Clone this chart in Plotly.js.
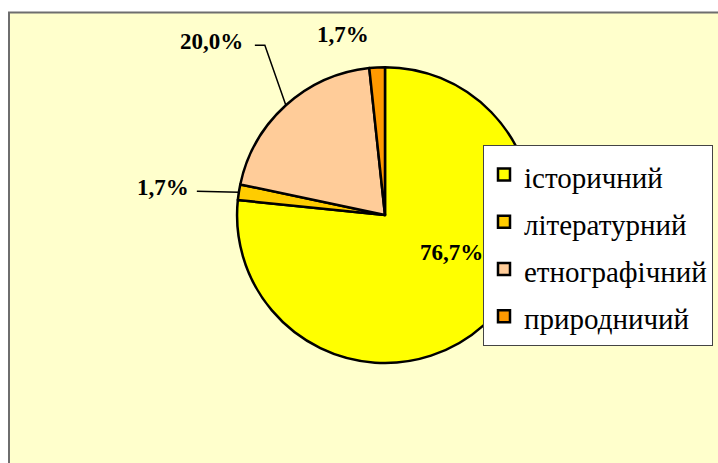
<!DOCTYPE html>
<html>
<head>
<meta charset="utf-8">
<script src="https://cdn.plot.ly/plotly-3.0.1.min.js"></script>
<style>html,body{margin:0;padding:0;background:#fff;overflow:hidden;}
#chart{width:718px;height:463px;}</style>
</head>
<body>
<div id="chart"></div>
<script>
// ---- data ----
const categories = ['історичний', 'літературний', 'етнографічний', 'природничий'];
const shares = [76.7, 1.7, 20.0, 1.7];
const sliceColors = ['#FFFF00', '#FFCC00', '#FFCC99', '#FF9900'];
const percentLabels = shares.map(v => v.toFixed(1).replace('.', ',') + '%');

// ---- layout geometry ----
const SERIF = 'Liberation Serif';
const W = 718, H = 463;
const dom = { x: [0.3301, 0.7423], y: [0.216, 0.855] };
const cx = W * (dom.x[0] + dom.x[1]) / 2;
const cy = H * (1 - (dom.y[0] + dom.y[1]) / 2);
const R = Math.min(W * (dom.x[1] - dom.x[0]), H * (dom.y[1] - dom.y[0])) / 2;
const toX = px => px / W;
const toY = py => 1 - py / H;

// label placement (pixel offsets from slice edge midpoint)
const placement = [
  { dx: -33, dy: -72, leader: null },
  { dx: -76, dy: -5, leader: [[0, 0], [-42, -1]] },
  { dx: -74, dy: -64, leader: [[0, 0], [-21, -60], [-31, -60]] },
  { dx: -34, dy: -33, leader: null }
];

const total = shares.reduce((a, b) => a + b, 0);
let cum = 0;
const annotations = [];
const shapes = [{
  type: 'rect', xref: 'paper', yref: 'paper', layer: 'below',
  x0: toX(9), x1: 1.02, y0: -0.02, y1: toY(12.5),
  fillcolor: '#FFFFCC', line: { color: '#6e6e6e', width: 2 }
}];
shares.forEach((v, i) => {
  const mid = (cum + v / 2) / total * 2 * Math.PI;
  cum += v;
  const ex = cx + R * Math.sin(mid);
  const ey = cy - R * Math.cos(mid);
  const p = placement[i];
  annotations.push({
    xref: 'paper', yref: 'paper', x: toX(ex + p.dx), y: toY(ey + p.dy),
    xanchor: 'center', yanchor: 'middle', showarrow: false,
    text: '<b>' + percentLabels[i] + '</b>',
    font: { family: SERIF, size: 23, color: '#000' }
  });
  if (p.leader) {
    const path = p.leader.map((pt, k) => (k ? 'L' : 'M') + toX(ex + pt[0]).toFixed(5) + ',' + toY(ey + pt[1]).toFixed(5)).join(' ');
    shapes.push({ type: 'path', xref: 'paper', yref: 'paper', path: path, line: { color: '#000', width: 1.5 } });
  }
});

const trace = {
  type: 'pie',
  labels: categories.map(c => '<span style="font-size:29px">' + c + '</span>'),
  values: shares,
  sort: false,
  direction: 'clockwise',
  rotation: 0,
  textinfo: 'none',
  hoverinfo: 'label+percent',
  marker: { colors: sliceColors, line: { color: '#000', width: 2.5 } },
  domain: dom
};

const layout = {
  width: W, height: H,
  margin: { l: 0, r: 0, t: 0, b: 0 },
  paper_bgcolor: '#FFFFFF',
  font: { family: SERIF },
  showlegend: true,
  legend: {
    x: toX(483), y: toY(145), xanchor: 'left', yanchor: 'top',
    bgcolor: '#FFFFFF', bordercolor: '#444', borderwidth: 1,
    font: { family: SERIF, size: 34, color: '#000' }
  },
  shapes: shapes,
  annotations: annotations
};

const config = { displayModeBar: false, staticPlot: true };
function draw() { Plotly.newPlot('chart', [trace], layout, config); }
draw();
// redraw once the serif faces are available so the text is measured and drawn with them
if (document.fonts && document.fonts.load) {
  Promise.all([
    document.fonts.load('29px "Liberation Serif"', 'історичний'),
    document.fonts.load('bold 23px "Liberation Serif"', '76,7%')
  ]).then(draw).catch(() => {});
  document.fonts.ready.then(draw).catch(() => {});
}
</script>
</body>
</html>
